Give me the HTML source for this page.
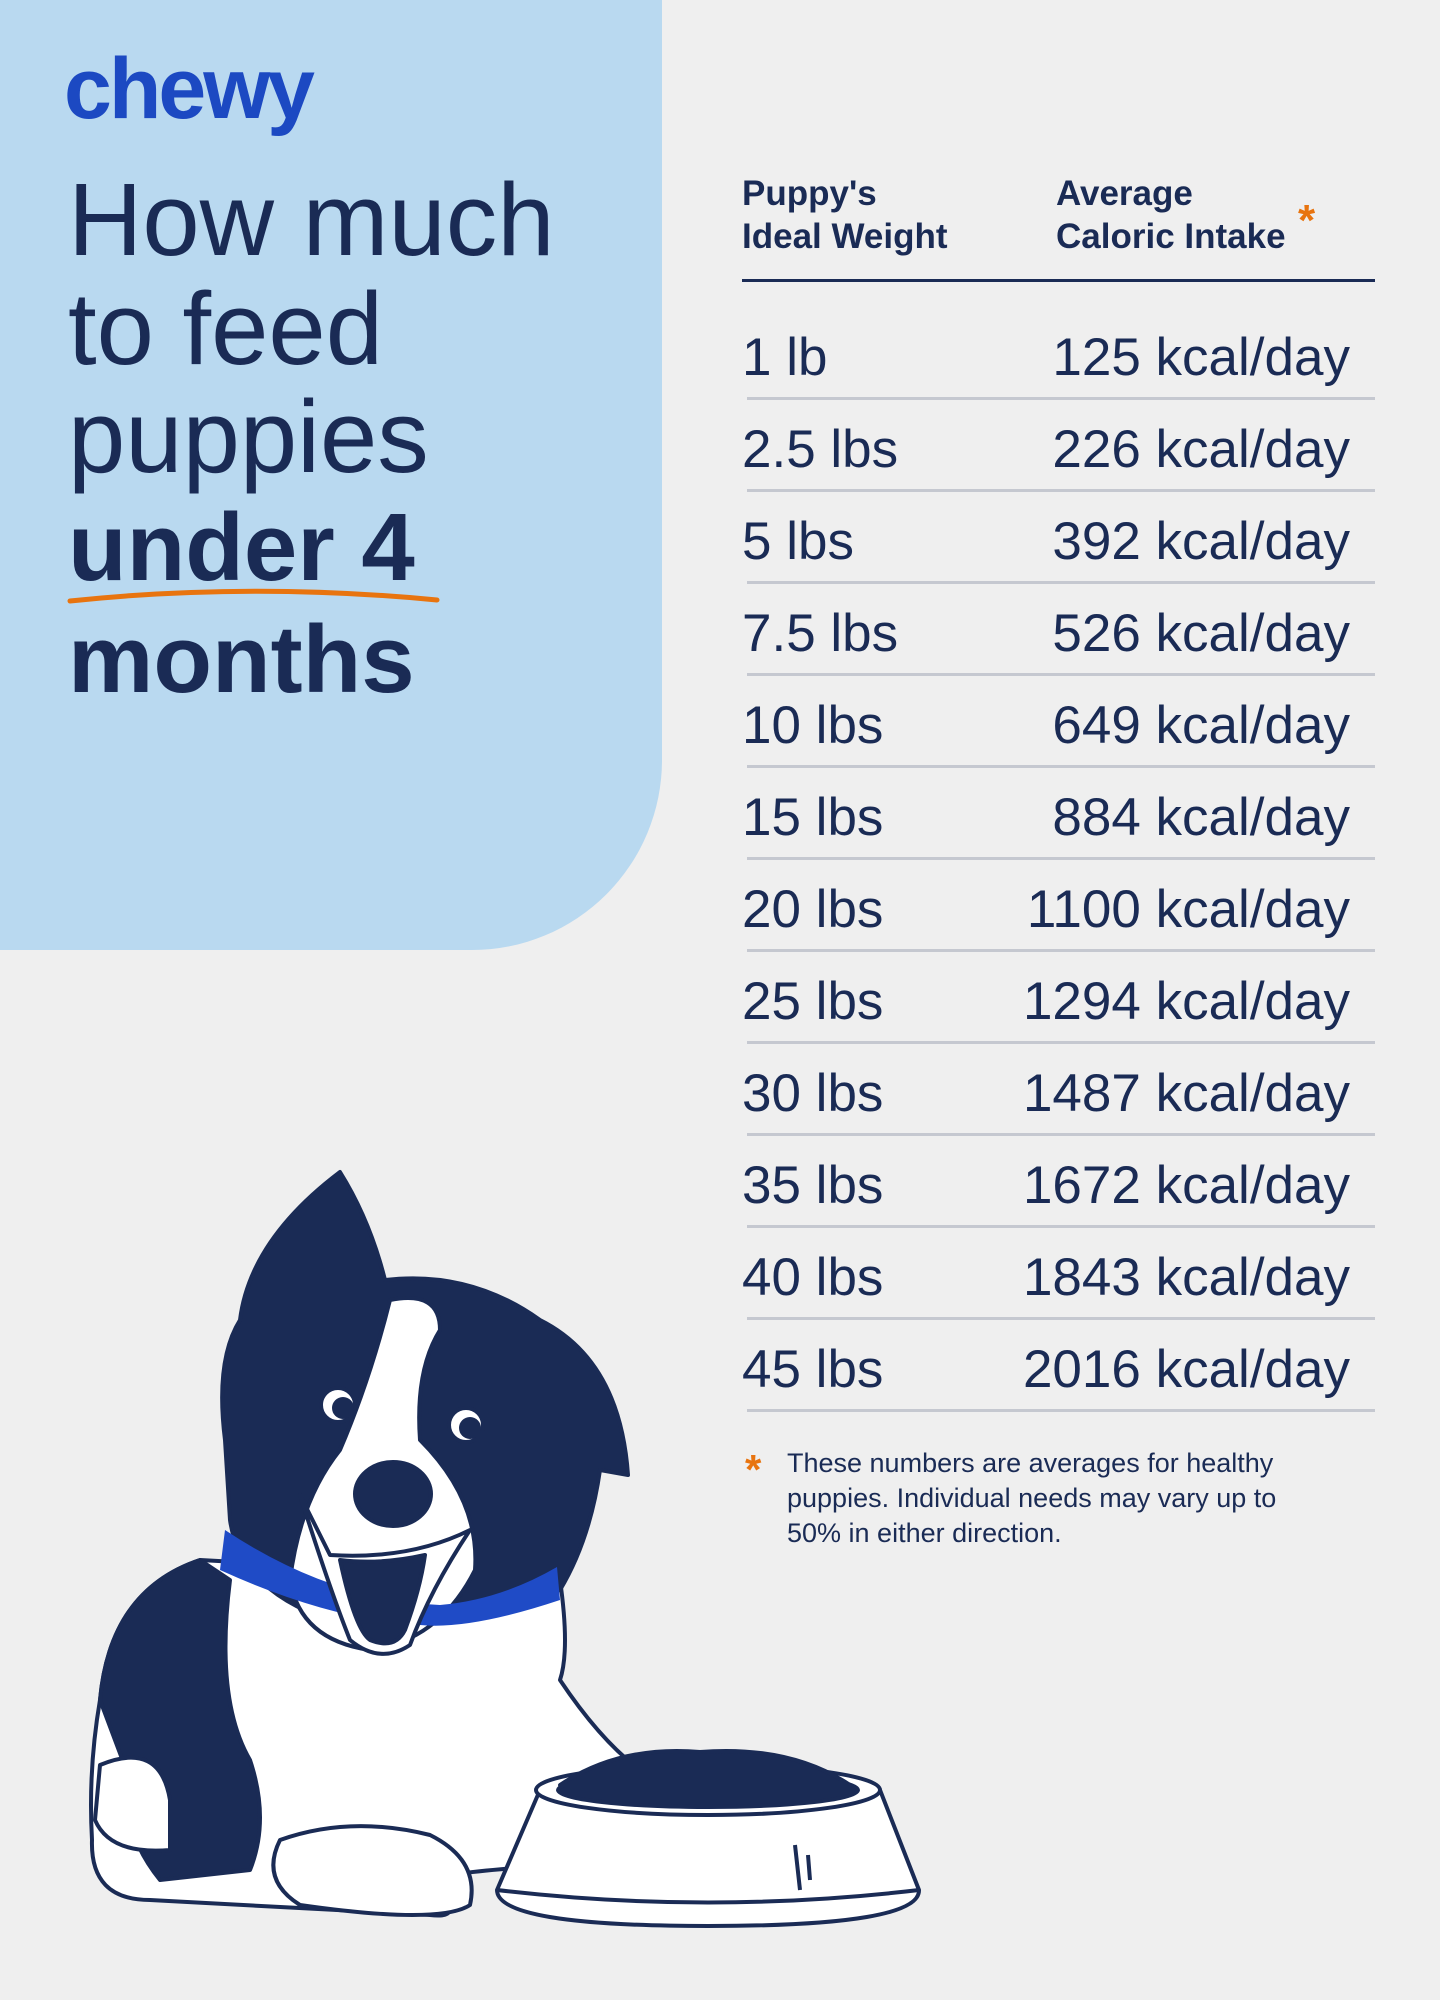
<!DOCTYPE html>
<html><head><meta charset="utf-8"><style>
*{margin:0;padding:0;box-sizing:border-box}
body{width:1440px;height:2000px;background:#efefef;position:relative;overflow:hidden;font-family:"Liberation Sans",sans-serif;color:#1a2b55}
.panel{position:absolute;left:0;top:0;width:662px;height:950px;background:#b9d9f0;border-bottom-right-radius:190px}
.logo{position:absolute;left:64px;top:40px;font-size:86px;font-weight:bold;color:#1c49c2;letter-spacing:-3px;font-family:"Liberation Sans",sans-serif}
.t{position:absolute;left:68px;font-size:103px;line-height:1;white-space:nowrap}
.b{font-weight:bold;font-size:96px}
.h{position:absolute;font-size:35px;font-weight:bold;line-height:43px;top:172px}
.row{position:absolute;left:742px;width:608px;height:58px;font-size:53px;line-height:58px}
.row span{position:absolute;right:0;top:0}
.ln{position:absolute;left:747px;width:628px;height:3px;background:#c5c8d0}
.fn{position:absolute;left:787px;top:1446px;width:540px;font-size:27px;line-height:35px}
</style></head><body>
<div class="panel"></div>
<div class="logo">chewy</div>
<div class="t" style="top:168px">How much</div>
<div class="t" style="top:277px">to feed</div>
<div class="t" style="top:385px">puppies</div>
<div class="t b" style="top:500px">under 4</div>
<svg style="position:absolute;left:0;top:0" width="662" height="700"><path d="M70 601 Q250 582 437 600" stroke="#e8740f" stroke-width="5" fill="none" stroke-linecap="round"/></svg>
<div class="t b" style="top:612px">months</div>

<div class="h" style="left:742px">Puppy's<br>Ideal Weight</div>
<div class="h" style="left:1056px">Average<br>Caloric Intake</div>
<div style="position:absolute;left:1298px;top:196px;font-size:44px;font-weight:bold;color:#e8740f">*</div>
<div style="position:absolute;left:742px;top:279px;width:633px;height:3px;background:#1a2b55"></div>

<div class="row" style="top:329px">1 lb<span>125 kcal/day</span></div>
<div class="row" style="top:421px">2.5 lbs<span>226 kcal/day</span></div>
<div class="row" style="top:513px">5 lbs<span>392 kcal/day</span></div>
<div class="row" style="top:605px">7.5 lbs<span>526 kcal/day</span></div>
<div class="row" style="top:697px">10 lbs<span>649 kcal/day</span></div>
<div class="row" style="top:789px">15 lbs<span>884 kcal/day</span></div>
<div class="row" style="top:881px">20 lbs<span>1100 kcal/day</span></div>
<div class="row" style="top:973px">25 lbs<span>1294 kcal/day</span></div>
<div class="row" style="top:1065px">30 lbs<span>1487 kcal/day</span></div>
<div class="row" style="top:1157px">35 lbs<span>1672 kcal/day</span></div>
<div class="row" style="top:1249px">40 lbs<span>1843 kcal/day</span></div>
<div class="row" style="top:1341px">45 lbs<span>2016 kcal/day</span></div>
<div class="ln" style="top:397px"></div><div class="ln" style="top:489px"></div><div class="ln" style="top:581px"></div><div class="ln" style="top:673px"></div><div class="ln" style="top:765px"></div><div class="ln" style="top:857px"></div><div class="ln" style="top:949px"></div><div class="ln" style="top:1041px"></div><div class="ln" style="top:1133px"></div><div class="ln" style="top:1225px"></div><div class="ln" style="top:1317px"></div><div class="ln" style="top:1409px"></div>

<div style="position:absolute;left:745px;top:1446px;font-size:42px;font-weight:bold;color:#e8740f">*</div>
<div class="fn">These numbers are averages for healthy puppies. Individual needs may vary up to 50% in either direction.</div>

<svg style="position:absolute;left:0;top:0" width="1440" height="2000">
<g stroke="#1a2b55" stroke-width="4" stroke-linejoin="round">
<path d="M100 1700 Q110 1590 200 1560 L560 1580 Q570 1650 560 1680 Q600 1740 640 1770 L640 1860 Q450 1870 430 1880 Q470 1920 430 1915 L150 1900 Q90 1900 92 1840 Q88 1770 100 1700 Z" fill="#fff"/>
<path d="M100 1700 Q110 1590 200 1560 L230 1580 Q215 1700 250 1760 Q270 1820 250 1870 L160 1880 Q120 1830 130 1780 Z" fill="#1a2b55"/>
<path d="M100 1765 Q160 1740 170 1800 L170 1850 Q110 1855 95 1820 Z" fill="#fff"/>
<path d="M280 1840 Q350 1815 430 1835 Q480 1860 470 1905 Q440 1925 300 1905 Q260 1880 280 1840 Z" fill="#fff"/>
<path d="M225 1440 Q215 1360 240 1320 Q250 1240 340 1172 Q370 1220 385 1280 Q470 1270 540 1320 Q620 1360 628 1475 L600 1470 Q590 1540 560 1590 Q450 1630 330 1620 Q240 1590 230 1520 Z" fill="#1a2b55"/>
<path d="M390 1300 Q440 1290 440 1330 Q415 1370 420 1440 Q480 1500 475 1570 Q440 1640 370 1650 Q300 1640 290 1580 Q300 1500 340 1450 Q370 1380 390 1300 Z" fill="#fff"/>
<path d="M225 1530 Q330 1600 440 1605 Q500 1600 557 1567 L560 1600 Q470 1630 420 1625 Q330 1620 220 1570 Z" fill="#1f4bc6" stroke="none"/>
<path d="M300 1495 Q330 1590 350 1640 Q380 1665 410 1645 Q430 1590 470 1530 Q410 1560 330 1555 Z" fill="#fff"/>
<path d="M340 1560 Q355 1630 370 1640 Q395 1650 405 1630 Q420 1590 425 1555 Q380 1565 340 1560 Z" fill="#1a2b55"/>
<ellipse cx="393" cy="1494" rx="38" ry="32" fill="#1a2b55"/>
<circle cx="338" cy="1405" r="17" fill="#fff"/><circle cx="343" cy="1408" r="11" fill="#1a2b55" stroke="none"/>
<circle cx="466" cy="1425" r="17" fill="#fff"/><circle cx="470" cy="1428" r="11" fill="#1a2b55" stroke="none"/>
<path d="M497 1890 L540 1790 L880 1790 L919 1890 Q920 1926 708 1926 Q497 1926 497 1890 Z" fill="#fff"/>
<ellipse cx="708" cy="1790" rx="172" ry="25" fill="#fff"/>
<ellipse cx="708" cy="1790" rx="150" ry="17" fill="#1a2b55"/>
<path d="M560 1785 Q620 1745 700 1752 Q790 1745 850 1785 Z" fill="#1a2b55"/>
<path d="M497 1890 Q708 1915 919 1890" fill="none"/>
<path d="M795 1845 L800 1890 M808 1855 L810 1880" fill="none"/>
</g>
</svg>
</body></html>
